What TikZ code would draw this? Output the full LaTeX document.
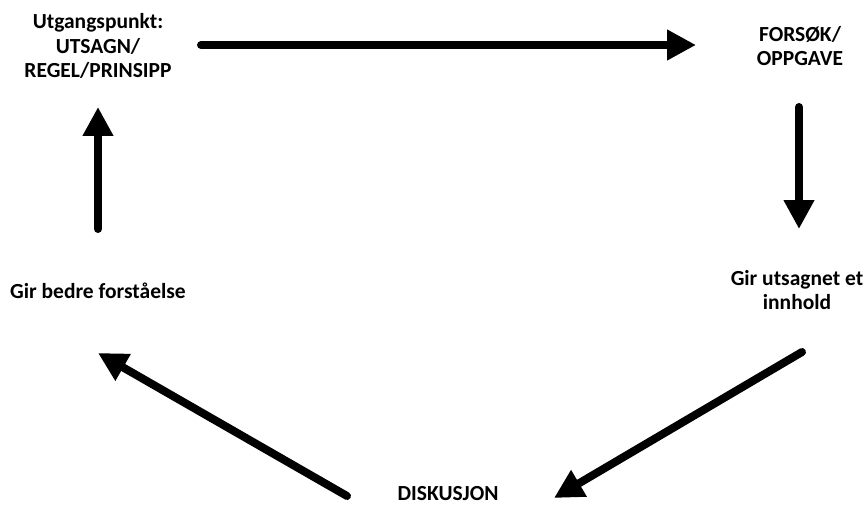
\documentclass[tikz,border=0pt]{standalone}
\usepackage{fontspec}
\setmainfont{Carlito}
\usetikzlibrary{arrows.meta}
\begin{document}
\begin{tikzpicture}[x=1pt,y=-1pt,
  lbl/.style={font=\fontsize{21.5}{24.5}\selectfont\bfseries, align=center, inner sep=0pt},
  flow/.style={line width=8pt, line cap=round, -{Triangle[length=29pt,width=29pt]}}]
\useasboundingbox (0,0) rectangle (867,508);
\node[lbl] (start) at (98,46) {Utgangspunkt:\\UTSAGN/\\REGEL/PRINSIPP};
\node[lbl] (task) at (800,46) {FORSØK/\\OPPGAVE};
\node[lbl] (content) at (797,290) {Gir utsagnet et\\innhold};
\node[lbl] (underst) at (98,291) {Gir bedre forståelse};
\node[lbl, anchor=base] (disc) at (448,500) {DISKUSJON};
\coordinate (a1s) at (201,45); \coordinate (a1e) at (696,45);
\coordinate (a2s) at (799,107); \coordinate (a2e) at (799,229);
\coordinate (a3s) at (802,352); \coordinate (a3e) at (554,498);
\coordinate (a4s) at (347,496); \coordinate (a4e) at (98,353);
\coordinate (a5s) at (98,229); \coordinate (a5e) at (98,107);
\draw[flow] (a1s) -- (a1e);
\draw[flow] (a2s) -- (a2e);
\draw[flow] (a3s) -- (a3e);
\draw[flow] (a4s) -- (a4e);
\draw[flow] (a5s) -- (a5e);
\end{tikzpicture}
\end{document}
